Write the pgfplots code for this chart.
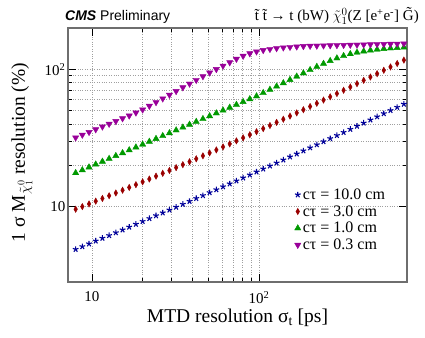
\documentclass[border=0pt]{standalone}
\usepackage{fontspec}
\setmainfont{Liberation Serif}
\newfontfamily\cmsfont{Liberation Sans}
\usepackage{pgfplots}
\pgfplotsset{compat=1.18}
\definecolor{cblue}{RGB}{0,0,153}
\definecolor{cred}{RGB}{153,0,0}
\definecolor{cgreen}{RGB}{0,153,0}
\definecolor{cmag}{RGB}{153,0,153}
\definecolor{frame}{RGB}{110,110,110}

\begin{document}
\begin{tikzpicture}
\path[use as bounding box] (0pt,0pt) rectangle (425pt,337pt);
\begin{axis}[
  at={(68pt,55pt)}, anchor=south west,
  scale only axis, width=339pt, height=254pt,
  xmode=log, ymode=log,
  xmin=7.2, xmax=770, ymin=2.8, ymax=200,
  xtick={10,100}, xticklabels={10,10\textsuperscript{2}},
  ytick={10,100}, yticklabels={10,10\textsuperscript{2}},
  grid=both,
  major grid style={dotted, gray!75, line width=0.5pt},
  minor grid style={dotted, gray!75, line width=0.5pt},
  axis line style={frame, line width=1.5pt},
  tick align=inside,
  major tick length=8pt, minor tick length=4pt,
  every tick/.style={black, line width=0.5pt},
  ticklabel style={font=\fontsize{15}{17}\selectfont},
  xticklabel style={yshift=-6pt},
  yticklabel style={xshift=1pt},
  xlabel={MTD resolution σ\textsubscript{t} [ps]},
  ylabel={1 σ M$_{\tilde{\chi}^{0}_{1}}$ resolution (\%)},
  label style={font=\fontsize{19.5}{21}\selectfont},
  xlabel style={at={(axis description cs:0.5,-0.142)}, anchor=center},
  ylabel style={at={(axis description cs:-0.136,0.51)}, anchor=center},
  legend style={draw=none, fill=none, at={(axis description cs:0.668,0.376)}, anchor=north west,
    font=\fontsize{16}{17}\selectfont, row sep=0.6pt, inner sep=0pt,
    /tikz/every even column/.append style={column sep=1pt}},
  legend cell align=left,
]
\addplot[only marks, mark=star, mark size=3pt, color=cblue, mark options={line width=1.1pt}] coordinates {
(8.00,4.85)(8.77,5.08)(9.62,5.32)(10.55,5.58)(11.57,5.85)(12.69,6.12)(13.92,6.42)(15.27,6.73)(16.74,7.05)(18.36,7.40)
(20.14,7.76)(22.09,8.14)(24.22,8.54)(26.57,8.96)(29.14,9.40)(31.95,9.86)(35.05,10.35)(38.44,10.87)(42.15,11.41)(46.23,11.98)
(50.70,12.59)(55.61,13.22)(60.98,13.89)(66.88,14.59)(73.35,15.34)(80.44,16.12)(88.22,16.95)(96.75,17.82)(106.1,18.74)(116.4,19.71)
(127.6,20.73)(140.0,21.81)(153.5,22.94)(168.4,24.13)(184.6,25.41)(202.5,26.74)(222.1,28.15)(243.6,29.65)(267.1,31.22)(293.0,32.88)
(321.3,34.63)(352.4,36.50)(386.5,38.46)(423.8,40.53)(464.8,42.71)(509.8,45.03)(559.1,47.48)(613.2,50.06)(672.5,52.79)(737.5,55.69)
};
\addlegendentry{cτ = 10.0 cm}
\addplot[only marks, mark=diamond*, mark size=3.2pt, color=cred, mark options={xscale=0.75}] coordinates {
(8.00,9.51)(8.77,9.94)(9.62,10.40)(10.55,10.89)(11.57,11.40)(12.69,11.93)(13.92,12.50)(15.27,13.09)(16.74,13.72)(18.36,14.37)
(20.14,15.07)(22.09,15.80)(24.22,16.58)(26.57,17.39)(29.14,18.25)(31.95,19.16)(35.05,20.12)(38.44,21.13)(42.15,22.20)(46.23,23.33)
(50.70,24.52)(55.61,25.78)(60.98,27.11)(66.88,28.52)(73.35,30.01)(80.44,31.58)(88.22,33.24)(96.75,35.01)(106.1,36.88)(116.4,38.85)
(127.6,40.95)(140.0,43.17)(153.5,45.52)(168.4,48.03)(184.6,50.65)(202.5,53.46)(222.1,56.41)(243.6,59.56)(267.1,62.89)(293.0,66.44)
(321.3,70.21)(352.4,74.20)(386.5,78.44)(423.8,82.94)(464.8,87.72)(509.8,92.82)(559.1,98.22)(613.2,103.97)(672.5,110.07)(737.5,116.6)
};
\addlegendentry{cτ = 3.0 cm}
\addplot[only marks, mark=triangle*, mark size=3.6pt, color=cgreen] coordinates {
(8.00,17.50)(8.77,18.36)(9.62,19.26)(10.55,20.21)(11.57,21.20)(12.69,22.23)(13.92,23.32)(15.27,24.47)(16.74,25.67)(18.36,26.93)
(20.14,28.25)(22.09,29.64)(24.22,31.09)(26.57,32.61)(29.14,34.20)(31.95,35.87)(35.05,37.62)(38.44,39.46)(42.15,41.38)(46.23,43.40)
(50.70,45.52)(55.61,47.75)(60.98,50.08)(66.88,52.52)(73.35,55.08)(80.44,57.77)(88.22,60.59)(96.75,63.55)(106.1,67.16)(116.4,70.98)
(127.6,75.01)(140.0,79.27)(153.5,83.77)(168.4,88.53)(184.6,93.56)(202.5,98.88)(222.1,104.3)(243.6,109.7)(267.1,115.1)(293.0,120.3)
(321.3,125.1)(352.4,129.2)(386.5,132.5)(423.8,135.3)(464.8,137.5)(509.8,139.4)(559.1,141.0)(613.2,142.3)(672.5,143.3)(737.5,144.3)
};
\addlegendentry{cτ = 1.0 cm}
\addplot[only marks, mark=triangle*, mark size=3.6pt, color=cmag, mark options={rotate=180}] coordinates {
(8.00,31.70)(8.77,33.19)(9.62,34.75)(10.55,36.39)(11.57,38.11)(12.69,39.90)(13.92,41.78)(15.27,43.75)(16.74,45.81)(18.36,48.19)
(20.14,50.70)(22.09,53.95)(24.22,57.41)(26.57,61.09)(29.14,65.01)(31.95,69.18)(35.05,73.62)(38.44,78.34)(42.15,83.37)(46.23,88.72)
(50.70,94.41)(55.61,100.0)(60.98,105.9)(66.88,112.2)(73.35,118.9)(80.44,125.0)(88.22,130.3)(96.75,134.6)(106.1,137.7)(116.4,140.3)
(127.6,142.2)(140.0,143.9)(153.5,145.2)(168.4,146.2)(184.6,147.2)(202.5,147.9)(222.1,148.3)(243.6,148.7)(267.1,149.1)(293.0,149.6)
(321.3,150.0)(352.4,150.4)(386.5,150.8)(423.8,151.2)(464.8,151.7)(509.8,152.1)(559.1,152.5)(613.2,152.9)(672.5,153.3)(737.5,153.8)
};
\addlegendentry{cτ = 0.3 cm}
\end{axis}
\node[anchor=base west, inner sep=0pt] at (65pt,316pt)
  {\cmsfont\fontsize{14}{16}\selectfont\textbf{\textit{CMS}} Preliminary};
\node[anchor=base east, inner sep=0pt] at (419pt,316pt)
  {\fontsize{15}{16}\selectfont \~{t} \~{t} → t (bW) $\tilde{\chi}^{0}_{1}$(Z [e\textsuperscript{+}e\textsuperscript{-}] \~{G})};
\end{tikzpicture}
\end{document}
